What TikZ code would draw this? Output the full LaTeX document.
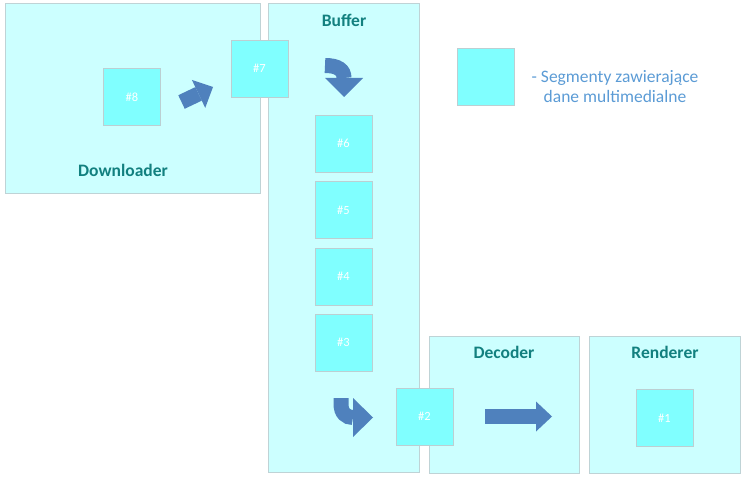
\documentclass[tikz,border=0pt]{standalone}
\usepackage{fontspec}
\setmainfont{Carlito}
\usetikzlibrary{arrows.meta,positioning}
\definecolor{panelfill}{HTML}{CCFFFF}
\definecolor{panelline}{HTML}{BFD3D6}
\definecolor{segfill}{HTML}{80FFFF}
\definecolor{segline}{HTML}{BCCFD2}
\definecolor{blockblue}{HTML}{4F81BD}
\definecolor{headteal}{HTML}{12807F}
\definecolor{legendblue}{HTML}{5B9BD5}

\begin{document}
\begin{tikzpicture}[x=1pt,y=-1pt,
  panel/.style={draw=panelline,fill=panelfill,inner sep=0pt},
  seg/.style={draw=segline,fill=segfill,minimum size=57pt,inner sep=0pt,text=white,font=\fontsize{12.5}{14}\selectfont},
  head/.style={text=headteal,font=\fontsize{17.5}{20}\selectfont\bfseries},
  blk/.style={blockblue,line width=15pt}]
\useasboundingbox (0,0) rectangle (746,481);
% panels
\node[panel,minimum width=255pt,minimum height=190pt] (dl) at (132.5,98) {};
\node[panel,minimum width=151pt,minimum height=469pt] (buf) at (343.5,237.5) {};
\node[panel,minimum width=150pt,minimum height=137pt] (dec) at (504,404.5) {};
\node[panel,minimum width=151pt,minimum height=137pt] (ren) at (664.5,404.5) {};
\node[head] (dlname) at (123,170) {Downloader};
\node[head] (bufname) at (344,20) {Buffer};
\node[head] (decname) at (504,352) {Decoder};
\node[head] (renname) at (665,352) {Renderer};
% segments
\node[seg] (s8) at (132,97) {\#8};
\node[seg] (s7) at (259.5,68.5) {\#7};
\node[seg] (s6) at (343.5,143.5) {\#6};
\node[seg,below=9pt of s6] (s5) {\#5};
\node[seg,below=9pt of s5] (s4) {\#4};
\node[seg,below=9pt of s4] (s3) {\#3};
\node[seg] (s2) at (424.5,416.5) {\#2};
\node[seg] (s1) at (664.5,418) {\#1};
% legend
\node[seg] (key) at (485.5,77) {};
\node[text=legendblue,align=center,font=\fontsize{17.5}{20}\selectfont] (keytext) at (615,87) {- Segmenty zawierające\\dane multimedialne};
% block arrows
\draw[blk,-{Triangle[length=16pt,width=31pt,line width=0pt]}] (181.5,102) -- (213,87);
\draw[blk,-{Triangle[length=19pt,width=38pt,line width=0pt]}] (325,65.5) .. controls (338,65.5) and (344,70) .. (344,78) -- (344,97);
\draw[blk,-{Triangle[length=20pt,width=39pt,line width=0pt]}] (341,398) -- (341,404) .. controls (341,413) and (346,417.5) .. (353,417.5) -- (373,417.5);
\draw[blk,-{Triangle[length=16pt,width=30pt,line width=0pt]}] (485,416.5) -- (552,416.5);
\end{tikzpicture}
\end{document}
